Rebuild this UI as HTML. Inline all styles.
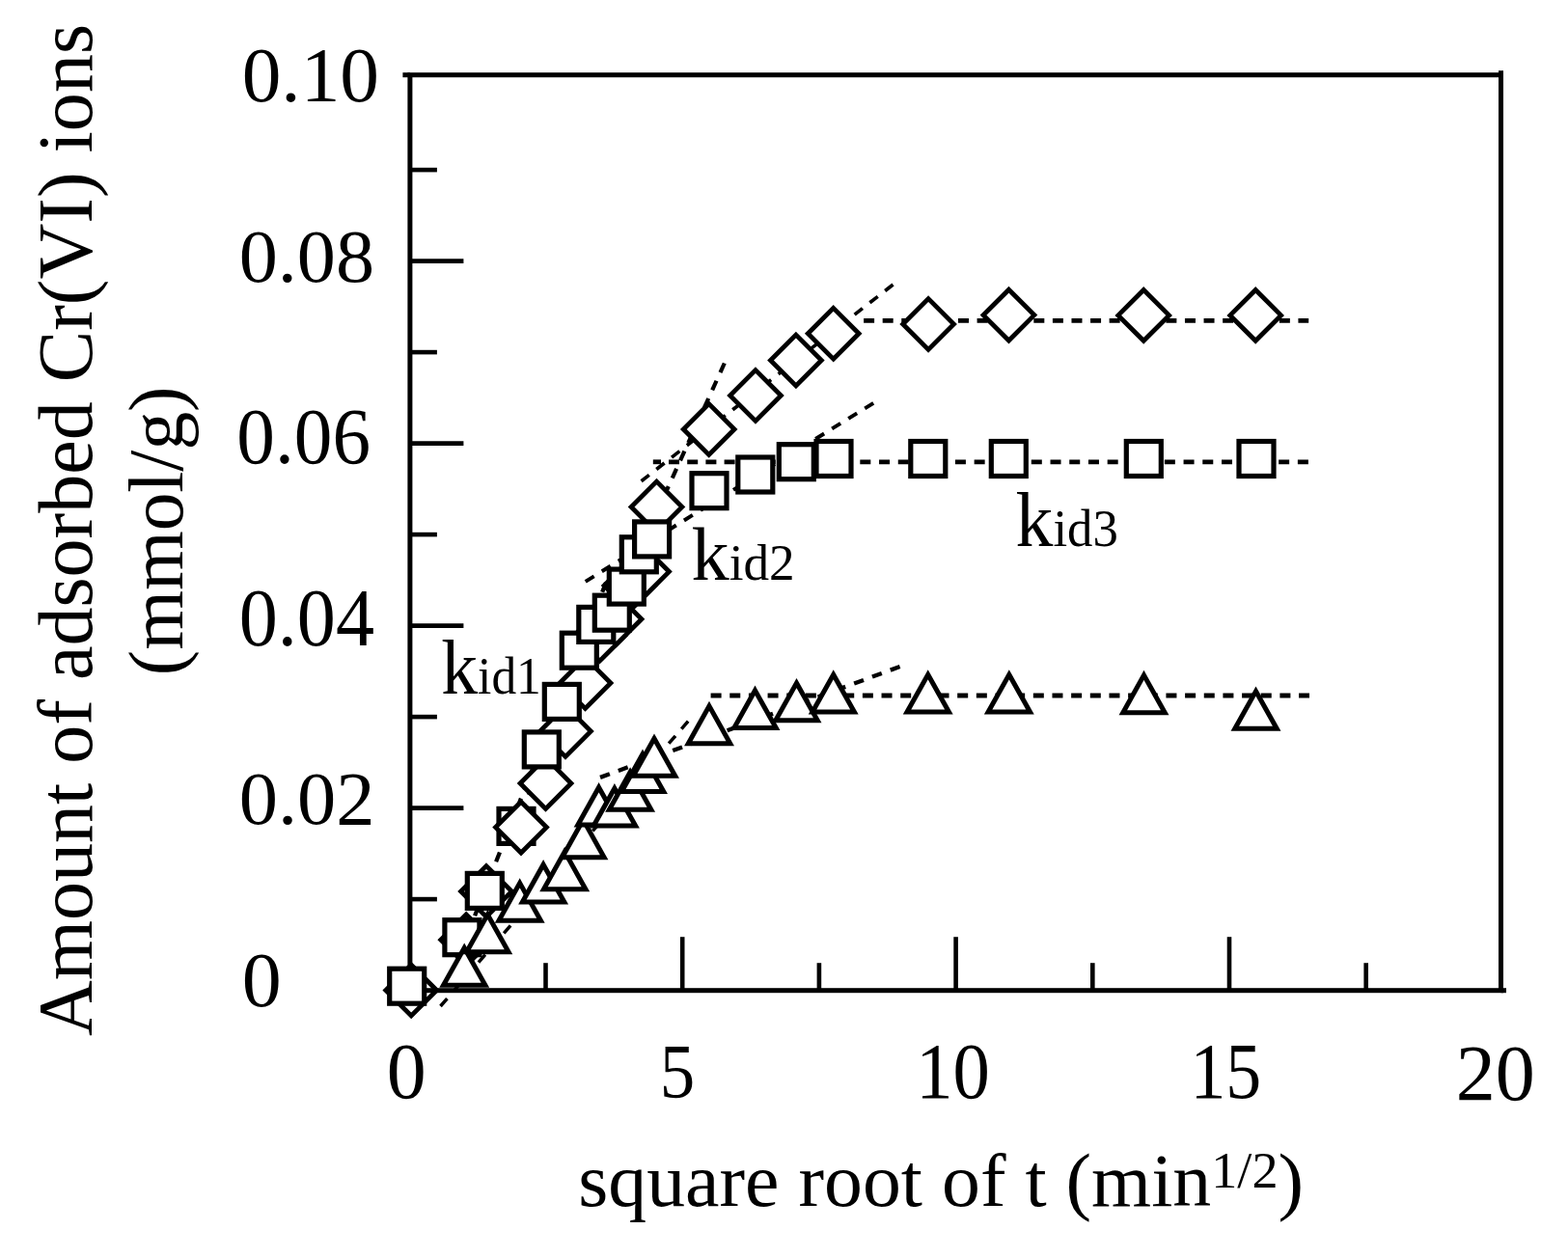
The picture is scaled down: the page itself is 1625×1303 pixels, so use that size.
<!DOCTYPE html>
<html lang="en"><head><meta charset="utf-8"><title>Intraparticle diffusion plot</title>
<style>
html,body{margin:0;padding:0;background:#fff;}
body{width:1625px;height:1303px;overflow:hidden;}
svg{display:block;}
text{font-family:"Liberation Serif", "DejaVu Serif", serif;fill:#000;}
.ax{stroke:#000;stroke-width:5;fill:none;stroke-linecap:butt;}
.tk{stroke:#000;stroke-width:4.6;fill:none;stroke-linecap:butt;}
.fit{stroke:#000;fill:none;}
.mk{stroke:#000;fill:#fff;stroke-linejoin:miter;stroke-miterlimit:10;}
.d{stroke-width:4.8;}.s{stroke-width:5.2;}.t{stroke-width:5;}
</style></head><body>
<svg width="1625" height="1303" viewBox="0 0 1625 1303">
<rect x="0" y="0" width="1625" height="1303" fill="#fff"/>
<g class="fit">
<line x1="750.8" y1="376.5" x2="532.6" y2="857" stroke-width="4.19" stroke-dasharray="10.5 9.54"/>
<line x1="925.5" y1="295" x2="664.6" y2="498.7" stroke-width="3.63" stroke-dasharray="10.5 9.54"/>
<line x1="895.1" y1="332.3" x2="1356.2" y2="332.3" stroke-width="4.8" stroke-dasharray="11 8.58"/>
<line x1="628" y1="604" x2="478" y2="985" stroke-width="4.28" stroke-dasharray="10.5 9.53"/>
<line x1="905.2" y1="417.8" x2="605.5" y2="603.6" stroke-width="3.91" stroke-dasharray="10.5 9.54"/>
<line x1="676.8" y1="478.8" x2="685" y2="478.8" stroke-width="4.8" stroke-dasharray="11 8.70"/>
<line x1="693" y1="478.8" x2="762" y2="478.8" stroke-width="4.8" stroke-dasharray="11 8.20"/>
<line x1="773" y1="478.8" x2="1356.2" y2="478.8" stroke-width="4.8" stroke-dasharray="11 8.72"/>
<line x1="456.5" y1="1043" x2="713.3" y2="747.5" stroke-width="3.47" stroke-dasharray="10.5 9.54"/>
<line x1="932.6" y1="691" x2="622" y2="805.9" stroke-width="4.31" stroke-dasharray="10.5 9.54"/>
<line x1="736.6" y1="721" x2="1357" y2="721" stroke-width="4.8" stroke-dasharray="11 8.66"/>
</g>
<g class="mk">
<path class="d" d="M426.2 1000.1L452.6 1026.5L426.2 1052.9L399.8 1026.5Z"/>
<path class="d" d="M483.2 947.9L509.6 974.3L483.2 1000.7L456.8 974.3Z"/>
<path class="d" d="M504.0 897.6L530.4 924.0L504.0 950.4L477.6 924.0Z"/>
<path class="d" d="M565.5 785.6L591.9 812.0L565.5 838.4L539.1 812.0Z"/>
<path class="d" d="M586.0 731.6L612.4 758.0L586.0 784.4L559.6 758.0Z"/>
<path class="d" d="M606.5 681.6L632.9 708.0L606.5 734.4L580.1 708.0Z"/>
<path class="d" d="M621.5 632.4L647.9 658.8L621.5 685.2L595.1 658.8Z"/>
<path class="d" d="M638.5 615.4L664.9 641.8L638.5 668.2L612.1 641.8Z"/>
<path class="d" d="M652.5 580.6L678.9 607.0L652.5 633.4L626.1 607.0Z"/>
<path class="d" d="M667.0 566.2L693.4 592.6L667.0 619.0L640.6 592.6Z"/>
<path class="d" d="M680.5 499.1L706.9 525.5L680.5 551.9L654.1 525.5Z"/>
<path class="d" d="M734.7 418.6L761.1 445.0L734.7 471.4L708.3 445.0Z"/>
<path class="d" d="M783.0 383.6L809.4 410.0L783.0 436.4L756.6 410.0Z"/>
<path class="d" d="M824.9 347.1L851.3 373.5L824.9 399.9L798.5 373.5Z"/>
<path class="d" d="M863.7 319.4L890.1 345.8L863.7 372.2L837.3 345.8Z"/>
<path class="d" d="M962.1 309.6L988.5 336.0L962.1 362.4L935.7 336.0Z"/>
<path class="d" d="M1045.5 300.2L1071.9 326.6L1045.5 353.0L1019.1 326.6Z"/>
<path class="d" d="M1185.2 300.5L1211.6 326.9L1185.2 353.3L1158.8 326.9Z"/>
<path class="d" d="M1301.2 300.5L1327.6 326.9L1301.2 353.3L1274.8 326.9Z"/>
</g>
<g class="ax">
<rect x="424.9" y="77.7" width="1130.6" height="949"/>
<line x1="417.4" y1="77.7" x2="424.9" y2="77.7"/>
<line x1="1555.5" y1="1026.7" x2="1561" y2="1026.7"/>
<line x1="1555.5" y1="73.2" x2="1555.5" y2="77.7"/>
</g>
<g class="tk">
<line x1="424.9" y1="932.1" x2="452.9" y2="932.1"/>
<line x1="424.9" y1="837.6" x2="480.4" y2="837.6"/>
<line x1="424.9" y1="743.1" x2="452.9" y2="743.1"/>
<line x1="424.9" y1="648.6" x2="480.4" y2="648.6"/>
<line x1="424.9" y1="554.1" x2="452.9" y2="554.1"/>
<line x1="424.9" y1="459.6" x2="480.4" y2="459.6"/>
<line x1="424.9" y1="365.1" x2="452.9" y2="365.1"/>
<line x1="424.9" y1="270.6" x2="480.4" y2="270.6"/>
<line x1="424.9" y1="176.1" x2="452.9" y2="176.1"/>
<line x1="565.5" y1="1026.7" x2="565.5" y2="998.2"/>
<line x1="707.2" y1="1026.7" x2="707.2" y2="971.2"/>
<line x1="848.9" y1="1026.7" x2="848.9" y2="998.2"/>
<line x1="990.6" y1="1026.7" x2="990.6" y2="971.2"/>
<line x1="1132.3" y1="1026.7" x2="1132.3" y2="998.2"/>
<line x1="1274.0" y1="1026.7" x2="1274.0" y2="971.2"/>
<line x1="1415.7" y1="1026.7" x2="1415.7" y2="998.2"/>
</g>
<g class="mk">
<rect class="s" x="403.7" y="1004.2" width="36.0" height="36.0"/>
<rect class="s" x="460.9" y="953.7" width="36.0" height="36.0"/>
<rect class="s" x="484.3" y="905.4" width="36.0" height="36.0"/>
<rect class="s" x="517.0" y="838.4" width="36.0" height="36.0"/>
<rect class="s" x="543.3" y="758.9" width="36.0" height="36.0"/>
<rect class="s" x="564.3" y="709.4" width="36.0" height="36.0"/>
<rect class="s" x="582.3" y="656.2" width="36.0" height="36.0"/>
<rect class="s" x="599.8" y="629.4" width="36.0" height="36.0"/>
<rect class="s" x="616.3" y="617.2" width="36.0" height="36.0"/>
<rect class="s" x="631.3" y="590.1" width="36.0" height="36.0"/>
<rect class="s" x="644.3" y="556.8" width="36.0" height="36.0"/>
<rect class="s" x="657.6" y="540.9" width="36.0" height="36.0"/>
<rect class="s" x="717.0" y="490.7" width="36.0" height="36.0"/>
<rect class="s" x="764.8" y="474.0" width="36.0" height="36.0"/>
<rect class="s" x="807.3" y="460.7" width="36.0" height="36.0"/>
<rect class="s" x="846.0" y="457.5" width="36.0" height="36.0"/>
<rect class="s" x="943.8" y="457.5" width="36.0" height="36.0"/>
<rect class="s" x="1027.3" y="457.5" width="36.0" height="36.0"/>
<rect class="s" x="1167.3" y="457.5" width="36.0" height="36.0"/>
<rect class="s" x="1284.0" y="457.5" width="36.0" height="36.0"/>
<path class="d" d="M540.0 831.2L566.4 857.6L540.0 884.0L513.6 857.6Z"/>
<path class="t" d="M481.2 982.5L502.9 1021.3L459.5 1021.3Z"/>
<path class="t" d="M505.3 948.0L527.0 986.8L483.6 986.8Z"/>
<path class="t" d="M538.7 915.4L560.4 954.2L517.0 954.2Z"/>
<path class="t" d="M563.1 896.2L584.8 935.0L541.4 935.0Z"/>
<path class="t" d="M585.2 882.9L606.9 921.7L563.5 921.7Z"/>
<path class="t" d="M604.4 849.9L626.1 888.7L582.7 888.7Z"/>
<path class="t" d="M620.6 816.2L642.3 855.0L598.9 855.0Z"/>
<path class="t" d="M636.9 817.2L658.6 856.0L615.2 856.0Z"/>
<path class="t" d="M653.1 800.4L674.8 839.2L631.4 839.2Z"/>
<path class="t" d="M666.0 781.7L687.7 820.5L644.3 820.5Z"/>
<path class="t" d="M678.0 765.5L699.7 804.3L656.3 804.3Z"/>
<path class="t" d="M735.0 731.9L756.7 770.7L713.3 770.7Z"/>
<path class="t" d="M782.5 715.7L804.2 754.5L760.8 754.5Z"/>
<path class="t" d="M825.5 708.0L847.2 746.8L803.8 746.8Z"/>
<path class="t" d="M863.7 699.3L885.4 738.1L842.0 738.1Z"/>
<path class="t" d="M961.7 699.3L983.4 738.1L940.0 738.1Z"/>
<path class="t" d="M1045.8 699.3L1067.5 738.1L1024.1 738.1Z"/>
<path class="t" d="M1185.5 699.9L1207.2 738.7L1163.8 738.7Z"/>
<path class="t" d="M1301.5 716.5L1323.2 755.3L1279.8 755.3Z"/>
</g>
<g font-size="81">
<text transform="translate(250.69 104.91) scale(1.0044 0.9873)">0.10</text>
<text transform="translate(247.73 292.43) scale(0.9897 0.9691)">0.08</text>
<text transform="translate(245.36 480.49) scale(0.9788 1.0145)">0.06</text>
<text transform="translate(247.73 668.97) scale(0.9898 1.0327)">0.04</text>
<text transform="translate(247.72 854.42) scale(0.9933 0.9782)">0.02</text>
<text transform="translate(250.67 1042.82) scale(1.0116 0.9800)">0</text>
<text transform="translate(400.77 1138.37) scale(1.0116 1.0291)">0</text>
<text transform="translate(683.65 1137.91) scale(0.9000 0.9889)">5</text>
<text transform="translate(949.17 1138.37) scale(0.9465 1.0255)">10</text>
<text transform="translate(1233.42 1137.87) scale(0.9113 1.0257)">15</text>
<text transform="translate(1508.65 1140.29) scale(1.0134 1.0145)">20</text>
<text transform="translate(599.25 1249.93) scale(0.9853 0.9638)">square root of t (min<tspan font-size="55" dy="-20">1/2</tspan><tspan dy="20">)</tspan></text>
<text transform="translate(94.55 1074.09) rotate(-90) scale(0.9882 0.9851)">Amount of adsorbed Cr(VI) ions</text>
<text transform="translate(189.38 700.13) rotate(-90) scale(0.9793 0.9838)">(mmol/g)</text>
<text transform="translate(457.20 719.11) scale(0.9358 0.9860)">k<tspan font-size="55">id1</tspan></text>
<text transform="translate(716.55 601.31) scale(0.9671 0.9702)">k<tspan font-size="55">id2</tspan></text>
<text transform="translate(1052.56 565.91) scale(0.9589 0.9877)">k<tspan font-size="55">id3</tspan></text>
</g>
</svg>
</body></html>
